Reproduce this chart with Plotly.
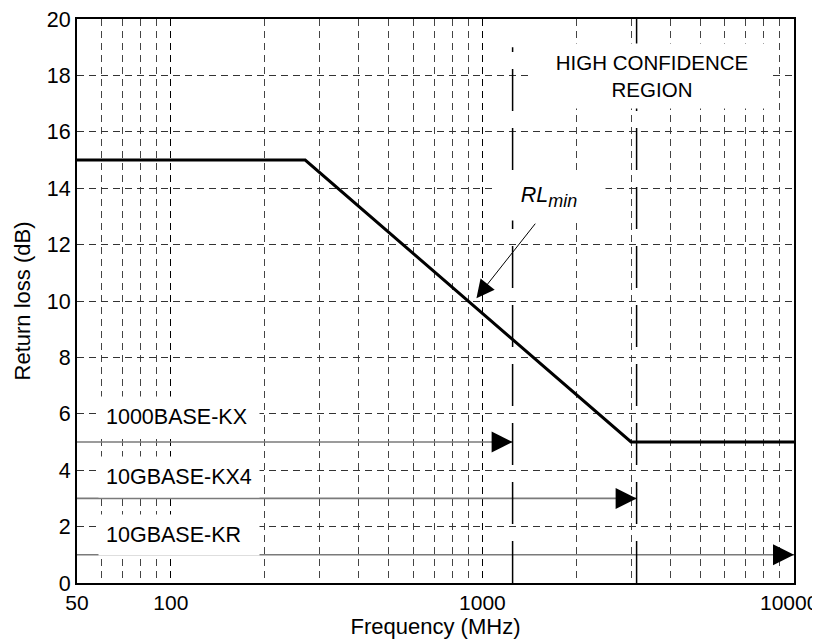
import numpy as np
import plotly.graph_objects as go

# ---- data ----
curve_freq = [50, 270, 3000, 10000]        # MHz
curve_rl = [15, 15, 5, 5]                  # dB (RL_min mask)

phy_names = ["1000BASE-KX", "10GBASE-KX4", "10GBASE-KR"]
phy_max_freq = [1250, 3125, 10000]         # MHz, end of each arrow
phy_level = [5, 3, 1]                      # dB, height of each arrow
phy_label_y = [5.88, 3.75, 1.71]           # dB, label centre
label_left_freq = 58.6                     # MHz, left edge of label boxes

region_edge_freq = [1250, 3125]            # vertical dash lines
region_edge_top = [19.0, 20.0]

x_tickvals = [50, 100, 1000, 10000]
x_ticktext = ["50", "100", "1000", "10000"]
x_minor_vals = [60, 70, 80, 90, 200, 300, 400, 500, 600, 700, 800, 900,
                2000, 3000, 4000, 5000, 6000, 7000, 8000, 9000]
y_tickvals = [0, 2, 4, 6, 8, 10, 12, 14, 16, 18, 20]

rl_arrow_freq = 957
rl_arrow_db = 10.1
rl_text_freq = 1632
rl_text_db = 13.68
region_text_freq = 3508
region_text_db = 17.99

FONT = "Liberation Sans, Arial, sans-serif"

fig = go.Figure()

# grey arrow shafts
for f, lvl in zip(phy_max_freq, phy_level):
    fig.add_trace(go.Scatter(x=[curve_freq[0], f], y=[lvl, lvl], mode="lines",
                             line=dict(color="#7a7a7a", width=1.6),
                             showlegend=False, hoverinfo="skip"))

# vertical long-dash region lines
for f, top in zip(region_edge_freq, region_edge_top):
    fig.add_trace(go.Scatter(x=[f, f], y=[0, top], mode="lines",
                             line=dict(color="black", width=1.5, dash="42px,17px"),
                             showlegend=False, hoverinfo="skip"))

# RL_min curve
fig.add_trace(go.Scatter(x=curve_freq, y=curve_rl, mode="lines",
                         line=dict(color="black", width=3),
                         showlegend=False, hoverinfo="skip"))

annotations = []
# arrow heads
for f, lvl in zip(phy_max_freq, phy_level):
    annotations.append(dict(x=np.log10(f), y=lvl, xref="x", yref="y", text="",
                            showarrow=True, ax=-20, ay=0, arrowhead=2,
                            arrowsize=2.1, arrowwidth=2, arrowcolor="black",
                            standoff=0))
# labels
for name, ly in zip(phy_names, phy_label_y):
    annotations.append(dict(x=np.log10(label_left_freq), y=ly, xref="x", yref="y",
                            text=name, showarrow=False, xanchor="left",
                            yanchor="middle", align="left", bgcolor="white",
                            width=146, height=26, borderpad=7,
                            font=dict(family=FONT, size=21.5, color="black")))
# high confidence region
annotations.append(dict(x=np.log10(region_text_freq), y=region_text_db, xref="x", yref="y",
                        text="HIGH CONFIDENCE<br>REGION", showarrow=False,
                        xanchor="center", yanchor="middle", bgcolor="white",
                        width=232, height=58, borderpad=3,
                        font=dict(family=FONT, size=20.5, color="black")))
# RL_min label
annotations.append(dict(x=np.log10(rl_text_freq), y=rl_text_db, xref="x", yref="y",
                        text="<i>RL<sub><span style='font-size:18px'>min</span></sub></i>",
                        showarrow=False,
                        xanchor="center", yanchor="middle", bgcolor="white",
                        width=104, height=38, borderpad=4,
                        font=dict(family=FONT, size=21.5, color="black")))
# RL_min arrow
annotations.append(dict(x=np.log10(rl_arrow_freq), y=rl_arrow_db, xref="x", yref="y",
                        text="", showarrow=True, ax=60, ay=-76, arrowhead=2,
                        arrowsize=3.6, arrowwidth=1, arrowcolor="black", standoff=0))
# last x tick label: drawn as an annotation nudged left so it stays inside the page
annotations.append(dict(x=np.log10(x_tickvals[-1]), y=0, xref="x", yref="y",
                        text=x_ticktext[-1], showarrow=False, xanchor="center",
                        yanchor="middle", xshift=-5, yshift=-19.5,
                        font=dict(family=FONT, size=21, color="black")))

# page body has an 8px margin: compensate so the plot sits where the reference has it
fig.update_layout(
    width=812, height=635,
    margin=dict(l=69, r=26, t=11, b=60),
    paper_bgcolor="white", plot_bgcolor="white",
    font=dict(family=FONT, size=21, color="black"),
    annotations=annotations,
    showlegend=False,
)

fig.update_xaxes(
    type="log", range=[np.log10(50), np.log10(10000)],
    tickvals=x_tickvals, ticktext=x_ticktext[:-1] + [""],
    showgrid=True, gridcolor="black", gridwidth=1.3, griddash="7px,5px",
    minor=dict(tickvals=x_minor_vals, showgrid=True, gridcolor="#444",
               gridwidth=1, griddash="7px,5px", ticks=""),
    showline=True, linecolor="black", linewidth=2, mirror=True,
    ticks="", zeroline=False, automargin=False, ticklabeloverflow="allow",
    tickfont=dict(family=FONT, size=21),
    title=dict(text="Frequency (MHz)", font=dict(family=FONT, size=22), standoff=4),
)
fig.update_yaxes(
    range=[0, 20], tickvals=y_tickvals,
    showgrid=True, gridcolor="#333", gridwidth=1, griddash="7px,5px",
    showline=True, linecolor="black", linewidth=2, mirror=True,
    ticks="", zeroline=False, automargin=False, ticklabeloverflow="allow",
    tickfont=dict(family=FONT, size=21.5),
    title=dict(text="Return loss (dB)", font=dict(family=FONT, size=22), standoff=10),
)

fig.write_html("out.html")
